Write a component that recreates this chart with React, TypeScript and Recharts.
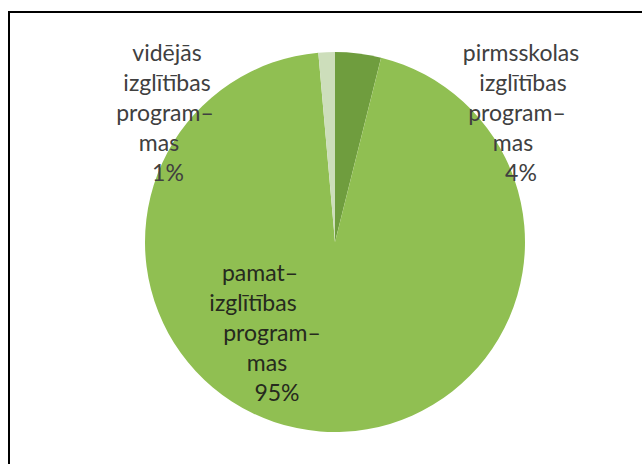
import { PieChart, Pie, Cell } from 'recharts';

const categories = [
  'pirmsskolas izglītības programmas',
  'pamatizglītības programmas',
  'vidējās izglītības programmas',
];
const shares = [3.9, 94.7, 1.4];
const labelLines = [
  ['pirmsskolas', 'izglītības', 'program–', 'mas'],
  ['pamat–', 'izglītības', 'program–', 'mas'],
  ['vidējās', 'izglītības', 'program–', 'mas'],
];
const colors = ['#6f9d3e', '#90bf52', '#cddebb'];

const data = categories.map((name, i) => ({ name, value: shares[i] }));

// label block offsets from the pie centre (first line)
const labelOffsets = [
  { dx: 186, dy: -190 },
  { dx: -70, dy: 30 },
  { dx: -168, dy: -190 },
];
// small horizontal nudges per line (the wrapped Excel text is not quite centred)
const lineNudges = [
  [0, 2, -4, -8, 0],
  [-5, -12, 7, 2, 12],
  [0, 0, -2, -8, 1],
];
const LINE_H = 30;

const renderLabel = (props: any) => {
  const { cx, cy, index, percent } = props;
  const off = labelOffsets[index];
  const x = cx + off.dx;
  const y0 = cy + off.dy;
  const lines = [...labelLines[index], `${Math.round(percent * 100)}%`];
  return (
    <text
      x={x}
      y={y0}
      textAnchor="middle"
      fontFamily="Lato, 'Open Sans', sans-serif"
      fontSize={23}
      fill={index === 1 ? '#262a1e' : '#404040'}
    >
      {lines.map((t, i) => (
        <tspan key={i} x={x + lineNudges[index][i]} y={y0 + i * LINE_H} dominantBaseline="central">
          {t}
        </tspan>
      ))}
    </text>
  );
};

export default function App() {
  return (
    <div style={{ position: 'fixed', left: 0, top: 0, width: 642, height: 464, background: '#fff' }}>
      <div
        style={{
          position: 'absolute',
          left: 8,
          top: 11,
          width: 634,
          height: 453,
          borderTop: '2px solid #000',
          borderLeft: '2px solid #000',
          boxSizing: 'border-box',
        }}
      />
      <div style={{ position: 'absolute', left: 0, top: 0 }}>
        <PieChart width={642} height={464} margin={{ top: 0, right: 0, bottom: 0, left: 0 }}>
          <Pie
            data={data}
            dataKey="value"
            nameKey="name"
            cx={335}
            cy={242}
            outerRadius={190}
            startAngle={90}
            endAngle={-270}
            stroke="none"
            labelLine={false}
            label={renderLabel}
            isAnimationActive={false}
          >
            {data.map((d, i) => (
              <Cell key={d.name} fill={colors[i]} />
            ))}
          </Pie>
        </PieChart>
      </div>
    </div>
  );
}
